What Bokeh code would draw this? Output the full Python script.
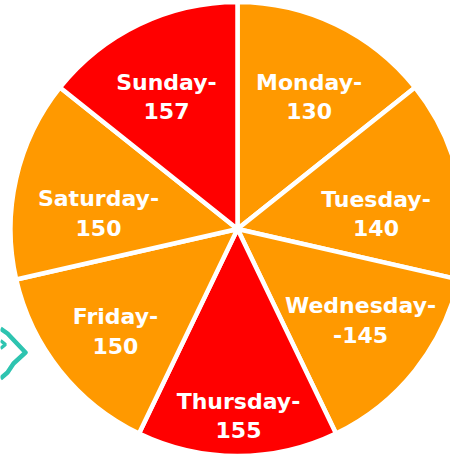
import math
from bokeh.plotting import figure
from bokeh.models import Range1d, ColumnDataSource
from bokeh.core.properties import value
from bokeh.embed import file_html
from bokeh.resources import INLINE

# ---- data ----
days = ["Monday", "Tuesday", "Wednesday", "Thursday", "Friday", "Saturday", "Sunday"]
values = [130, 140, 145, 155, 150, 150, 157]
value_labels = ["130", "140", "-145", "155", "150", "150", "157"]
highlight = ["Thursday", "Sunday"]

# ---- layout / style ----
W, H = 450, 456
cx, cy = 237, 227.5          # pie centre (px, y up)
R = 227                      # outer radius incl. white stroke
ORANGE = "#FF9900"
RED = "#FF0000"
TEAL = "#2EC4B0"
# label anchor (angle clockwise from top in degrees, radius in px)
label_theta = [28.4, 83.8, 126.6, 179.7, 230.0, 276.4, 331.8]
label_r = [150.6, 139.3, 153.3, 187.0, 159.3, 139.9, 150.3]
line_gap = 14.5

n = len(days)
step = 2 * math.pi / n       # the reference draws equal sectors
starts, ends, colors = [], [], []
for i, d in enumerate(days):
    starts.append(math.pi / 2 - i * step)
    ends.append(math.pi / 2 - (i + 1) * step)
    colors.append(RED if d in highlight else ORANGE)

src = ColumnDataSource(dict(day=days, val=values, start=starts, end=ends, color=colors))

p = figure(width=W, height=H, x_range=Range1d(0, W), y_range=Range1d(0, H),
           output_backend="svg", toolbar_location=None, min_border=0)
p.axis.visible = False
p.grid.visible = False
p.outline_line_color = None
p.background_fill_color = "white"
p.border_fill_color = "white"

# teal decorative brush stroke at left
p.line(x=[0, 7, 25, 13, 7, 0], y=[128, 123, 104, 93, 84, 78],
       line_color=TEAL, line_width=4.5, line_join="round")
p.line(x=[0, 5, 0], y=[116, 112, 108], line_color=TEAL, line_width=3.5)

p.wedge(x=cx, y=cy, radius=R, start_angle="start", end_angle="end", direction="clock",
        fill_color="color", line_color="white", line_width=4.5, source=src)

# labels
lx1, ly1, lx2, ly2, t1 = [], [], [], [], []
for i, d in enumerate(days):
    th = math.radians(label_theta[i])
    bx = cx + label_r[i] * math.sin(th)
    by = cy + label_r[i] * math.cos(th)
    lx1.append(bx); ly1.append(by + line_gap)
    lx2.append(bx); ly2.append(by - line_gap)
    t1.append(d + "-")

common = dict(text_color="white", text_font=value("DejaVu Sans"), text_font_style="bold",
              text_font_size="22px", text_align="center", text_baseline="middle")
p.text(x=lx1, y=ly1, text=t1, **common)
p.text(x=lx2, y=ly2, text=value_labels, **common)

open("out.html", "w").write(file_html(p, INLINE))
